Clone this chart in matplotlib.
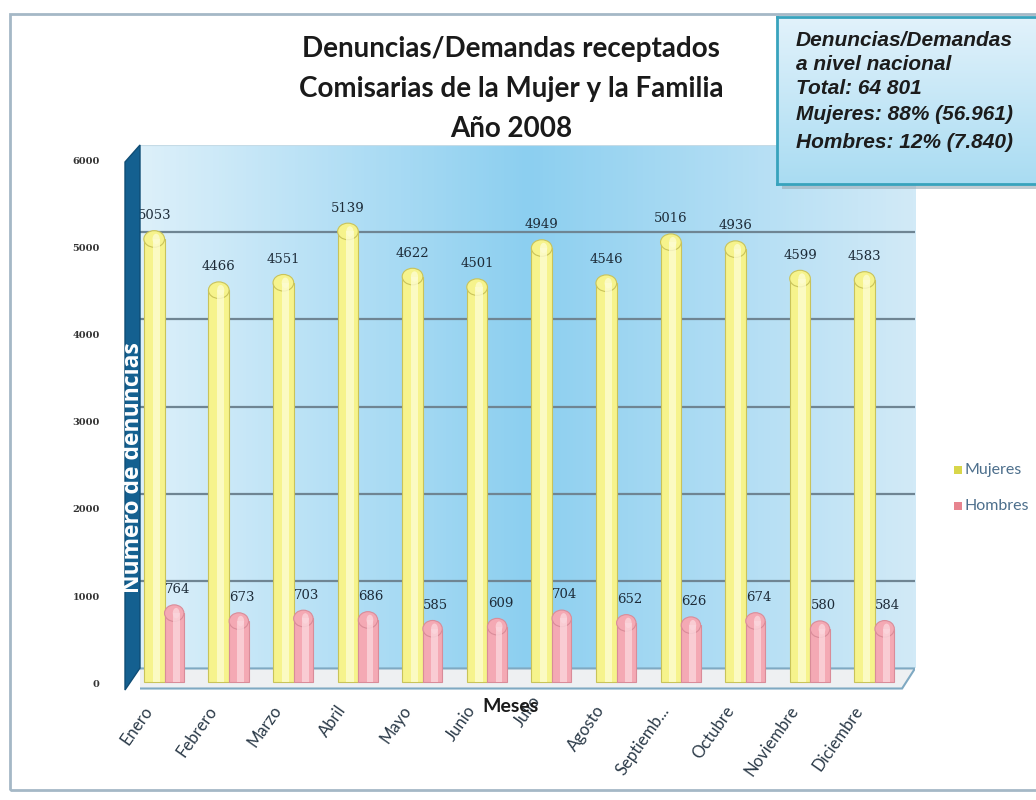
import numpy as np
import matplotlib
matplotlib.use("Agg")
import matplotlib.pyplot as plt
from matplotlib.patches import Polygon, Rectangle, Ellipse
from matplotlib.colors import LinearSegmentedColormap
from matplotlib.transforms import ScaledTranslation

meses = ["Enero", "Febrero", "Marzo", "Abril", "Mayo", "Junio", "Julio",
         "Agosto", "Septiemb...", "Octubre", "Noviembre", "Diciembre"]
mujeres = [5053, 4466, 4551, 5139, 4622, 4501, 4949, 4546, 5016, 4936, 4599, 4583]
hombres = [764, 673, 703, 686, 585, 609, 704, 652, 626, 674, 580, 584]
yticks = [0, 1000, 2000, 3000, 4000, 5000, 6000]
title = "Denuncias/Demandas receptados\nComisarias de la Mujer y la Familia\nAño 2008"
box_lines = ["Denuncias/Demandas", "a nivel nacional", "Total: 64 801",
             "Mujeres: 88% (56.961)", "Hombres: 12% (7.840)"]

W, H = 1036, 800
fig = plt.figure(figsize=(W / 100, H / 100), dpi=100)
fig.patch.set_facecolor("white")

def fx(px):
    return px / W

def fy(py):
    return 1 - py / H

def P(px, py):
    return (fx(px), fy(py))

# outer frame
fig.patches.append(Rectangle(P(10, 790), fx(1040) - fx(10), fy(14) - fy(790),
                             transform=fig.transFigure, fill=False,
                             edgecolor="#a5b8c6", lw=2.0, zorder=0))

# main axes
ax = fig.add_axes([fx(140), fy(692), 775 / W, (692 - 145) / H])
ax.set_xlim(-0.5, 11.5)
ax.set_ylim(-270, 6000)
ax.set_facecolor("none")
for s in ax.spines.values():
    s.set_visible(False)

# back wall gradient
cmap = LinearSegmentedColormap.from_list(
    "wall", [(0, "#ddf0fa"), (0.5, "#8ccff0"), (1, "#d2eaf7")])
grad = np.linspace(0, 1, 256).reshape(1, -1)
ax.imshow(grad, extent=(-0.5, 11.5, 0, 6000), aspect="auto", cmap=cmap,
          zorder=0, origin="lower")

for g in yticks[1:-1]:
    ax.axhline(g, color="#6f8593", lw=1.6, zorder=1)
ax.axhline(6000, color="#c5dbe6", lw=0.8, zorder=1)

# floor
floor = Polygon([(-0.5, 0), (11.5, 0), (11.3, -230), (-0.73, -230)],
                closed=True, facecolor="#eef0f2", edgecolor="#7fa9c2",
                lw=1.5, zorder=1)
ax.add_patch(floor)

x = np.arange(len(meses))
xm = x - 0.28
xh = x + 0.03
wm, wh = 0.32, 0.30
base = -150
drop = 130

mtops = [v - drop for v in mujeres]
htops = [v - drop for v in hombres]
ax.bar(xm, [t - base for t in mtops], bottom=base, width=wm,
       color="#f6f38c", edgecolor="#c9c35a", lw=0.8, zorder=3)
ax.bar(xm + 0.03, [t - base for t in mtops], bottom=base, width=wm * 0.35,
       color="#fdfcd0", lw=0, zorder=3.2, alpha=0.8)
ax.bar(xh, [t - base for t in htops], bottom=base, width=wh,
       color="#f4a9b4", edgecolor="#d98c99", lw=0.8, zorder=3)
ax.bar(xh + 0.03, [t - base for t in htops], bottom=base, width=wh * 0.35,
       color="#fbd6dc", lw=0, zorder=3.2, alpha=0.8)
for xi, t in zip(xm, mtops):
    ax.add_patch(Ellipse((xi, t), wm, 190, facecolor="#f6f38c",
                         edgecolor="#c9c35a", lw=0.8, zorder=3.1))
    ax.add_patch(Ellipse((xi + 0.03, t), wm * 0.35, 120, facecolor="#fdfcd0",
                         lw=0, zorder=3.3, alpha=0.8))
for xi, t in zip(xh, htops):
    ax.add_patch(Ellipse((xi, t), wh, 190, facecolor="#f4a9b4",
                         edgecolor="#d98c99", lw=0.8, zorder=3.1))
    ax.add_patch(Ellipse((xi + 0.03, t), wh * 0.35, 120, facecolor="#fbd6dc",
                         lw=0, zorder=3.3, alpha=0.8))

for xi, v in zip(xm, mujeres):
    ax.annotate(str(v), (xi, v), xytext=(0, 4), textcoords="offset points",
                ha="center", va="bottom", fontsize=9.5, family="DejaVu Serif",
                color="#1d2b38", zorder=5)
for xi, v in zip(xh, hombres):
    ax.annotate(str(v), (xi + 0.05, v), xytext=(0, 4), textcoords="offset points",
                ha="center", va="bottom", fontsize=9.5, family="DejaVu Serif",
                color="#1d2b38", zorder=5)

# y ticks
ax.set_yticks(yticks)
ax.set_yticklabels([str(t) for t in yticks], fontsize=7, fontweight="bold",
                   color="#333333", family="DejaVu Serif")
ax.tick_params(axis="y", length=0, pad=29)
off = ScaledTranslation(0, -15 / 100, fig.dpi_scale_trans)
for lab in ax.get_yticklabels():
    lab.set_transform(lab.get_transform() + off)

# x ticks
ax.set_xticks(xm)
ax.set_xticklabels(meses, rotation=55, ha="right", va="center",
                   rotation_mode="anchor", fontsize=12, family="Lato",
                   color="#2b3a48")
ax.tick_params(axis="x", length=0, pad=11)
for i, lab in enumerate(ax.get_xticklabels()):
    dy = 10 if meses[i] == "Julio" else 0
    lab.set_transform(lab.get_transform() +
                      ScaledTranslation(-5 / 100, dy / 100, fig.dpi_scale_trans))

# left dark side wall
fig.patches.append(Polygon([P(125, 162), P(140, 145), P(140, 668), P(125, 690)],
                           closed=True, transform=fig.transFigure,
                           facecolor="#146090", edgecolor="#0f4d75", lw=1,
                           zorder=2))
fig.text(fx(133), fy(468), "Numero de denuncias", rotation=90, ha="center",
         va="center", color="white", fontsize=16.5, fontweight="bold",
         family="Open Sans", zorder=6)

# title
fig.text(fx(511), fy(89), title, ha="center", va="center", fontsize=20,
         fontweight="bold", family="Lato", color="#1a1a1a", linespacing=1.68)

fig.text(fx(510), fy(707), "Meses", ha="center", va="center", fontsize=14,
         fontweight="bold", family="Lato", color="#1a1a1a")

# legend
hy = [470, 506]
cols = ["#d8d64a", "#e7848f"]
labs = ["Mujeres", "Hombres"]
for yy, c, l in zip(hy, cols, labs):
    fig.patches.append(Rectangle(P(954, yy + 4), 8 / W, 8 / H,
                                 transform=fig.transFigure, facecolor=c,
                                 edgecolor="none"))
    fig.text(fx(965), fy(yy), l, ha="left", va="center", fontsize=11.5,
             family="Lato", color="#4d6f8c")

# info box
fig.patches.append(Rectangle(P(782, 189), (1036 - 782) / W, (189 - 22) / H,
                             transform=fig.transFigure, facecolor="#9aaab4",
                             edgecolor="none", alpha=0.6, zorder=6))
bax = fig.add_axes([fx(777), fy(184), (1040 - 777) / W, (184 - 17) / H])
bax.set_zorder(7)
bcmap = LinearSegmentedColormap.from_list("box", ["#e2f2fb", "#a9dcf2"])
bax.imshow(np.linspace(0, 1, 128).reshape(-1, 1), aspect="auto", cmap=bcmap,
           extent=(0, 1, 0, 1), origin="upper")
bax.set_xlim(0, 1)
bax.set_ylim(0, 1)
bax.set_xticks([])
bax.set_yticks([])
for s in bax.spines.values():
    s.set_edgecolor("#38a3bd")
    s.set_linewidth(2)
ys = [40, 65, 89, 114, 143]
for yy, t in zip(ys, box_lines):
    fig.text(fx(796), fy(yy), t, ha="left", va="center", fontsize=15,
             fontweight="bold", fontstyle="italic", family="Liberation Sans",
             color="#1c1c1c", zorder=8)

fig.savefig("out.png", dpi=100, facecolor="white")
